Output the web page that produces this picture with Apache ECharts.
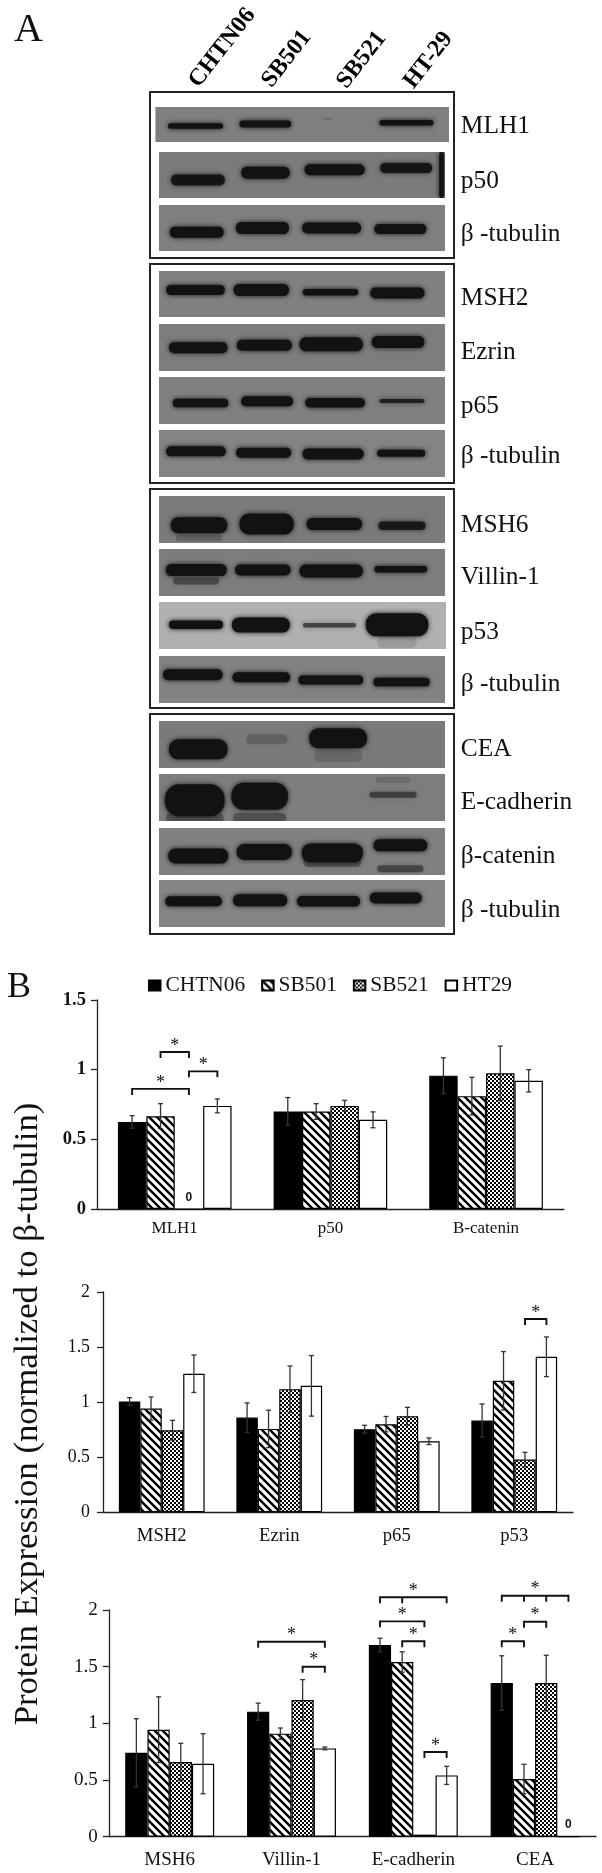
<!DOCTYPE html>
<html><head><meta charset="utf-8">
<script src="https://cdn.jsdelivr.net/npm/echarts@6/dist/echarts.min.js"></script>
<style>html,body{margin:0;padding:0;background:#fff}#c{width:602px;height:1873px;filter:blur(0.45px)}</style>
</head><body><div id="c"></div>
<script>
// ---- Panel A data: bands per gel, each [lane centre, migration, width, thickness, density]
const laneNames = ['CHTN06','SB501','SB521','HT-29'];
const gelNames = ['MLH1','p50','β -tubulin','MSH2','Ezrin','p65','β -tubulin','MSH6','Villin-1','p53','β -tubulin','CEA','E-cadherin','β-catenin','β -tubulin'];
const bandsMLH1 = [[34.8,19,47.7,5.5,1],[95.3,17,44.7,7,1],[149,12,8,1,.3],[217.7,15.7,47,5.5,1]];
const bandsP50 = [[33.7,28,46.7,11,.9],[92.3,20.7,42,12,1],[152.3,17.7,52,11,1],[214.3,16,45,10,.9],[245,23,4,46,1]];
const bandsTub1 = [[32.7,27.3,46.7,11,1],[89.7,23,46,12,1],[149.7,23,51,11,1],[209.3,24,45,10,1]];
const bandsMSH2 = [[31.7,19,50.7,10,1],[88.7,19,48,12,1],[148.7,21.3,48,6.5,1],[206.7,22,47,11,1]];
const bandsEzrin = [[34,23.7,50.7,11,1],[91.3,21.3,47.7,11,1],[149.3,20.3,55,14,1],[207.3,18,45.7,12,1]];
const bandsP65 = [[36,26,48,8.5,1],[93.7,24.3,45,10,1],[152.7,25.7,51.7,9.5,1],[210.7,24,39,4,.8]];
const bandsTub2 = [[32,21.3,51.7,10,1],[90.7,22.7,47.7,10,1],[151,24,53,11,1],[210,23.3,41.7,7,1]];
const bandsMSH6 = [[34.7,42,40,6,.2],[34.7,29.3,49,16,1],[93.3,28,47,21,1],[152,28,48,12,1],[210.7,29.7,41,8.5,.85]];
const bandsVillin = [[32.3,32,40,7,.4],[32.3,21,52.7,12,1],[90,21,48,11,1],[149.3,22,55,13,1],[209.7,20.3,45.7,6.5,1]];
const bandsP53 = [[32,22.7,46.7,8.5,1],[88,23,50,15,1],[147.3,23.3,46,4.5,.6],[205.7,40,34,12,.12],[205.7,22.7,54,23,1]];
const bandsTub3 = [[29.3,18.7,51.7,11,1],[88.7,21.3,50,10,1],[149,24,56,9,1],[210.3,26,48.7,8.5,1]];
const bandsCEA = [[34,28.3,50.7,20,1],[93.7,18.3,36,10,.2],[155.3,35,42,12,.15],[155.3,17.3,50,20,1]];
const bandsEcad = [[31,44,50,10,.35],[87.3,44,46,10,.35],[31,26.3,51.7,32,1],[87.3,22.3,49,27,1],[203,6,30,6,.15],[203,20.7,41,6,.5]];
const bandsCatenin = [[34,28,52,15,1],[91.3,24,47.7,16,1],[150.3,34,50,10,.35],[150.3,25,53,19,1],[209.3,40.7,40,7,.45],[209.3,17.3,46.7,12,1]];
const bandsTub4 = [[30,21.3,49,10,1],[87.7,20.3,47,12,1],[147,21.3,54.7,10.5,1],[205.3,18,45,11,1]];
const allBands = [bandsMLH1,bandsP50,bandsTub1,bandsMSH2,bandsEzrin,bandsP65,bandsTub2,bandsMSH6,bandsVillin,bandsP53,bandsTub3,bandsCEA,bandsEcad,bandsCatenin,bandsTub4];

// ---- Panel B data
const seriesNames = ['CHTN06','SB501','SB521','HT29'];
const cats1 = ['MLH1','p50','B-catenin'];
const chtn1 = [0.625,0.70,0.957];
const sb501_1 = [0.666,0.70,0.81];
const sb521_1 = [0,0.74,0.974];
const ht29_1 = [0.74,0.64,0.92];
const err1 = [[0.045,0.10,0.128],[0.09,0.056,0.135],[null,0.04,0.195],[0.05,0.057,0.08]];
const cats2 = ['MSH2','Ezrin','p65','p53'];
const chtn2 = [1.006,0.86,0.755,0.833];
const sb501_2 = [0.942,0.757,0.80,1.194];
const sb521_2 = [0.745,1.118,0.873,0.479];
const ht29_2 = [1.258,1.148,0.645,1.412];
const err2 = [[0.035,0.133,0.035,0.15],[0.105,0.17,0.07,0.265],[0.09,0.21,0.08,0.065],[0.17,0.275,0.03,0.18]];
const cats3 = ['MSH6','Villin-1','E-cadherin','CEA'];
const chtn3 = [0.741,1.103,1.691,1.356];
const sb501_3 = [0.944,0.909,1.541,0.509];
const sb521_3 = [0.659,1.206,0.018,1.356];
const ht29_3 = [0.644,0.779,0.541,0];
const err3 = [[0.30,0.075,0.06,0.24],[0.29,0.05,0.09,0.13],[0.165,0.18,null,0.245],[0.265,0.012,0.08,null]];
// significance brackets: [group, from bar, to bar, level, inner ticks...]
const sig1 = [[0,0,2,0.862],[0,2,3,0.988],[0,1,2,1.127]];
const sig2 = [[3,2,3,1.755]];
const sig3 = [[1,0,3,1.72],[1,2,3,1.5],[2,0,3,2.112,1],[2,0,2,1.9],[2,1,2,1.724],[2,2,3,0.747],[3,0,3,2.126,1,2],[3,1,2,1.897],[3,0,1,1.724]];

// ---- layout: [left, top, width, height, gel units across, gel grey]
const SERIF = '"Liberation Serif"';
const gelLayout = [[155.4,107,293.6,35,254.6,'#7f7f7f'],[159,152,286,46,248,'#7b7b7b'],[159,205,286,46,248,'#7f7f7f'],[159,271,286,46,248,'#808080'],[159,324,286,47,248,'#7d7d7d'],[159,377,286,47,248,'#808080'],[159,430,286,47,248,'#848484'],[159,496,286,47,248,'#7b7b7b'],[159,549,286,47,248,'#7d7d7d'],[159,602,287,47,248,'#b0b0b0'],[159,656,286,47,248,'#828282'],[159,721,286,47,248,'#7a7a7a'],[159,774,286,47,248,'#7d7d7d'],[159,828,286,47,248,'#808080'],[159,880,286,47,248,'#858585']];
const labelY = [126,181,234,298,352,406,456,525,577,632,684,749,802,856,910];
const frames = [[92,258],[264,483],[489,708],[714,934]];
const laneAnchors = [[203,92],[276,92],[351,93],[418,93]];
const chartLayout = [
  {left:96.9,top:1000,width:467,height:209,max:1.5,catFont:17,catMargin:11.5,valFont:18.5,valMargin:11,bold:true},
  {left:103,top:1292,width:470,height:220.3,max:2,catFont:18.7,catMargin:14,valFont:17.8,valMargin:13,bold:false},
  {left:108.8,top:1610,width:487.2,height:226.7,max:2,catFont:19,catMargin:14,valFont:19,valMargin:11,bold:false}];
const GAP = 0.27;

function tile(draw,w,h){const c=document.createElement('canvas');c.width=w;c.height=h;const g=c.getContext('2d');g.fillStyle='#fff';g.fillRect(0,0,w,h);g.fillStyle='#000';draw(g);return {image:c,repeat:'repeat'};}
const hatch = tile(g=>{g.strokeStyle='#000';g.lineWidth=2.4;g.lineCap='square';
  for(let i=-8;i<=16;i+=8){g.beginPath();g.moveTo(i,0);g.lineTo(i+8,8);g.stroke();}},8,8);
const dots = tile(g=>{g.fillRect(0,0,2,2);g.fillRect(2,2,2,2);},4,4);
const fills = ['#000',hatch,dots,'#fff'];

const grid=[],xAxis=[],yAxis=[],series=[],graphic=[];

gelLayout.forEach((g,i)=>{
  grid.push({left:g[0],top:g[1],width:g[2],height:g[3],show:true,backgroundColor:g[5],borderWidth:0});
  xAxis.push({type:'value',gridIndex:i,min:0,max:g[4],show:false});
  yAxis.push({type:'value',gridIndex:i,min:0,max:g[3],inverse:true,show:false});
  series.push({type:'custom',xAxisIndex:i,yAxisIndex:i,clip:true,silent:true,animation:false,data:allBands[i],
    encode:{x:0,y:1},
    renderItem(p,api){
      const c=api.coord([api.value(0),api.value(1)]);
      const s=api.size([api.value(2),api.value(3)]);
      const a=api.value(4);
      return {type:'rect',shape:{x:c[0]-s[0]/2,y:c[1]-s[1]/2,width:s[0],height:s[1],r:s[1]/2.2},
        style:{fill:'rgba(18,18,18,'+a+')',shadowBlur:5,shadowColor:'rgba(18,18,18,'+a+')'}};
    }});
  graphic.push({type:'text',x:460.8,y:labelY[i],style:{text:gelNames[i],font:'25.4px '+SERIF,fill:'#111',textVerticalAlign:'middle'}});
});
frames.forEach(f=>graphic.push({type:'rect',shape:{x:150,y:f[0],width:304,height:f[1]-f[0]},style:{fill:'none',stroke:'#222',lineWidth:2}}));
laneNames.forEach((n,i)=>graphic.push({type:'text',x:laneAnchors[i][0],y:laneAnchors[i][1],rotation:52*Math.PI/180,
  style:{text:n,font:'bold 24px '+SERIF,fill:'#000',textAlign:'left',textVerticalAlign:'bottom'}}));
graphic.push({type:'text',x:14,y:30,style:{text:'A',font:'40px '+SERIF,fill:'#111',textVerticalAlign:'middle'}});
graphic.push({type:'text',x:7,y:988,style:{text:'B',font:'36px '+SERIF,fill:'#111',textVerticalAlign:'middle'}});
graphic.push({type:'text',x:28,y:1414,rotation:Math.PI/2,style:{text:'Protein Expression (normalized to β-tubulin)',font:'34.7px '+SERIF,fill:'#111',textAlign:'center',textVerticalAlign:'middle'}});

function addChart(k,cats,vals,errs,sig){
  const L=chartLayout[k],gi=grid.length;
  grid.push({left:L.left,top:L.top,width:L.width,height:L.height});
  xAxis.push({type:'category',gridIndex:gi,data:cats,
    axisLine:{lineStyle:{color:'#222',width:1.3}},axisTick:{length:5,lineStyle:{color:'#222',width:1.3}},
    axisLabel:{color:'#111',fontFamily:SERIF,fontSize:L.catFont,margin:L.catMargin,interval:0}});
  yAxis.push({type:'value',gridIndex:gi,min:0,max:L.max,interval:0.5,splitLine:{show:false},
    axisLine:{show:true,lineStyle:{color:'#222',width:1.3}},axisTick:{show:true,length:6,lineStyle:{color:'#222',width:1.3}},
    axisLabel:{color:'#111',fontFamily:SERIF,fontSize:L.valFont,fontWeight:L.bold?'bold':'normal',margin:L.valMargin}});
  vals.forEach((v,j)=>series.push({type:'bar',name:seriesNames[j],xAxisIndex:gi,yAxisIndex:gi,data:v,animation:false,
    barGap:0,barCategoryGap:(GAP*100)+'%',silent:true,
    itemStyle:{color:fills[j],borderColor:'#000',borderWidth:1.2},
    label:{show:true,position:'top',distance:5,color:'#111',fontFamily:'"Liberation Sans"',fontWeight:'bold',fontSize:12,
      formatter:o=>o.value===0?'0':''}}));
  const ed=[];errs.forEach((row,j)=>row.forEach((e,c)=>{if(e!==null)ed.push([c,j,vals[j][c],e]);}));
  series.push({type:'custom',xAxisIndex:gi,yAxisIndex:gi,silent:true,animation:false,z:5,data:ed,encode:{x:0,y:2},
    renderItem(p,api){
      const c=api.value(0),j=api.value(1),v=api.value(2),e=api.value(3);
      const bw=api.size([1,0])[0]*(1-GAP)/4;
      const base=api.coord([c,v]);const x=base[0]+(j-1.5)*bw;
      const hi=api.coord([c,v+e])[1],lo=api.coord([c,v-e])[1];
      const st={stroke:'#333',lineWidth:1.3,fill:'none'};
      const ln=(a,b,d,f)=>({type:'line',shape:{x1:a,y1:b,x2:d,y2:f},style:st});
      return {type:'group',children:[ln(x,hi,x,lo),ln(x-2.5,hi,x+2.5,hi),ln(x-2.5,lo,x+2.5,lo)]};
    }});
  series.push({type:'custom',xAxisIndex:gi,yAxisIndex:gi,silent:true,animation:false,z:6,clip:false,
    data:sig.map(s=>[s[0],s[3],s[1],s[2],s[4]===undefined?-1:s[4],s[5]===undefined?-1:s[5]]),encode:{x:0,y:1},
    renderItem(p,api){
      const c=api.value(0),lvl=api.value(1),a=api.value(2),b=api.value(3),m1=api.value(4),m2=api.value(5);
      const bw=api.size([1,0])[0]*(1-GAP)/4;
      const pt=api.coord([c,lvl]);const X=j=>pt[0]+(j-1.5)*bw,y=pt[1],drop=6;
      const st={stroke:'#111',lineWidth:1.9,fill:'none'};
      const ch=[{type:'polyline',shape:{points:[[X(a),y+drop],[X(a),y],[X(b),y],[X(b),y+drop]]},style:st}];
      [m1,m2].forEach(m=>{if(m>=0)ch.push({type:'line',shape:{x1:X(m),y1:y,x2:X(m),y2:y+drop},style:st});});
      ch.push({type:'text',style:{text:'*',x:(X(a)+X(b))/2,y:y-6,font:'18px '+SERIF,fill:'#111',textAlign:'center',textVerticalAlign:'middle'}});
      return {type:'group',children:ch};
    }});
}
addChart(0,cats1,[chtn1,sb501_1,sb521_1,ht29_1],err1,sig1);
addChart(1,cats2,[chtn2,sb501_2,sb521_2,ht29_2],err2,sig2);
addChart(2,cats3,[chtn3,sb501_3,sb521_3,ht29_3],err3,sig3);

const chart=echarts.init(document.getElementById('c'),null,{renderer:'canvas'});
chart.setOption({animation:false,backgroundColor:'#fff',grid,xAxis,yAxis,series,graphic,
  legend:{data:seriesNames,left:148,top:975,icon:'rect',itemWidth:11.5,itemHeight:10,itemGap:16,padding:0,
    textStyle:{fontFamily:SERIF,fontSize:21.4,color:'#111'}}});
</script></body></html>
